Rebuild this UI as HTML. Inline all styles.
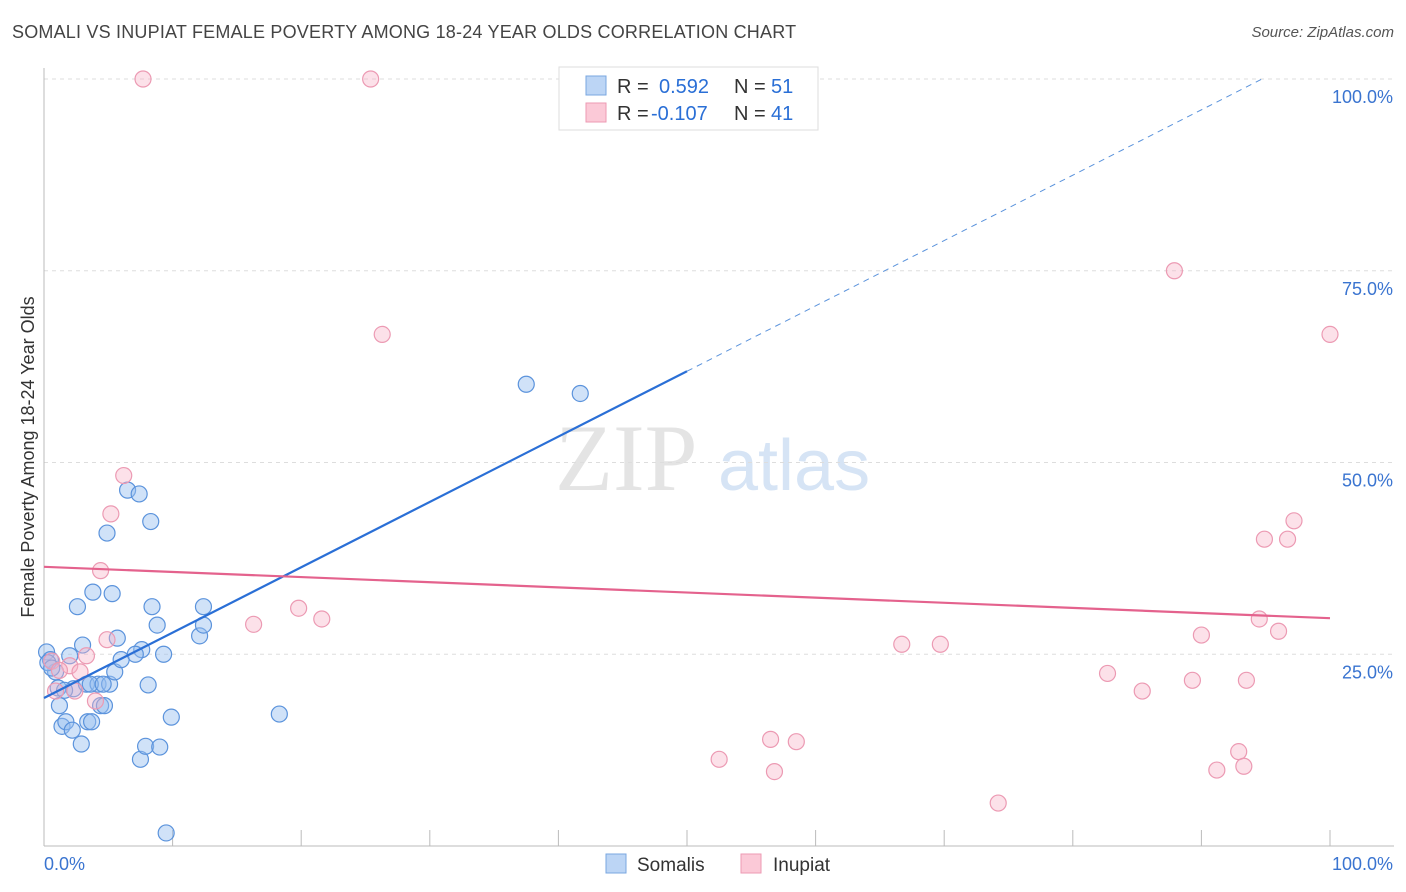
<!DOCTYPE html>
<html><head><meta charset="utf-8"><style>
body{margin:0;background:#fff;font-family:"Liberation Sans",sans-serif;}
#title{position:absolute;left:12px;top:22px;font-size:18px;color:#444;letter-spacing:0.2px}
#source{position:absolute;right:12px;top:24px;font-size:15px;color:#555;font-style:italic}
</style></head><body>
<div id="title">SOMALI VS INUPIAT FEMALE POVERTY AMONG 18-24 YEAR OLDS CORRELATION CHART</div>
<div id="source">Source: ZipAtlas.com</div>
<svg id="chart" width="1406" height="892" style="position:absolute;left:0;top:0"></svg>
<script>
const yTicks=[25,50,75,100];
const yTickLabels=["25.0%","50.0%","75.0%","100.0%"];
const somaliX=[0.2,0.5,0.9,1.2,1.4,1.7,2.0,2.2,2.3,2.6,2.9,3.0,3.3,3.4,3.7,3.8,4.2,4.4,4.7,4.9,5.1,5.3,5.5,5.7,6.0,6.5,7.4,7.5,7.9,8.1,8.3,8.4,8.8,9.0,9.3,9.5,9.9,12.1,12.4,12.4,18.3,37.5,41.7,0.3,0.6,1.1,1.6,3.6,4.6,7.6,7.1];
const somaliY=[25.3,24.3,22.7,18.3,15.6,16.2,24.8,15.1,20.5,31.2,13.3,26.2,21.1,16.2,16.2,33.1,21.1,18.3,18.3,40.8,21.1,32.9,22.7,27.1,24.3,46.4,45.9,11.3,13.0,21.0,42.3,31.2,28.8,12.9,25.0,1.7,16.8,27.4,31.2,28.8,17.2,60.2,59.0,23.9,23.2,20.6,20.3,21.1,21.1,25.6,25.0];
const inupiatX=[7.7,25.4,47.2,87.9,100,26.3,6.2,5.2,4.4,19.8,21.6,16.3,4.9,3.3,0.6,2.0,4.0,2.4,0.9,66.7,69.7,82.7,85.4,89.3,93.5,90.0,94.5,96.0,96.7,94.9,97.2,52.5,56.5,58.5,56.8,92.9,91.2,93.3,74.2,1.2,2.8];
const inupiatY=[100,100,100,75.0,66.7,66.7,48.3,43.3,35.9,31.0,29.6,28.9,26.9,24.8,24.1,23.5,18.9,20.2,20.2,26.3,26.3,22.5,20.2,21.6,21.6,27.5,29.6,28.0,40.0,40.0,42.4,11.3,13.9,13.6,9.7,12.3,9.9,10.4,5.6,22.9,22.7];
const somaliLine=[19.3,61.9,100]; // y at x=0, x=50, end y
const inupiatLine=[36.4,29.7];
const L=44,R=1330,T=79,B=846;
const sx=v=>L+(R-L)*v/100, sy=v=>B-(B-T)*v/100;
const svg=document.getElementById('chart');const NS='http://www.w3.org/2000/svg';
function mk(t,a,p){const e=document.createElementNS(NS,t);for(const k in a)e.setAttribute(k,a[k]);(p||svg).appendChild(e);return e;}
// watermark
let w=mk('text',{x:555,y:490,'font-size':95,fill:'#e4e4e4','font-family':'Liberation Serif'});w.textContent='ZIP';


let w2=mk('text',{x:718,y:490,'font-size':72,fill:'#d6e4f5'});w2.textContent='atlas';


// grid
yTicks.forEach((t,i)=>{
 const g=mk('line',{x1:L,x2:1394,y1:sy(t),y2:sy(t),stroke:'#ddd','stroke-dasharray':'4,4'});
 
 
 const tx=mk('text',{x:1393,y:sy(t)+24,'text-anchor':'end','font-size':18,fill:'#3a74d0'});tx.textContent=yTickLabels[i];
 
 
});
// axes
let ax=mk('line',{x1:L,x2:L,y1:68,y2:B,stroke:'#bbb'});


let ax2=mk('line',{x1:L,x2:1394,y1:B,y2:B,stroke:'#bbb'});


for(let i=1;i<=10;i++){const tk=mk('line',{x1:sx(i*10),x2:sx(i*10),y1:B,y2:B-16,stroke:'#bbb'});
 
 }
let x0=mk('text',{x:44,y:870,'font-size':18,fill:'#3a74d0'});x0.textContent='0.0%';


let x1=mk('text',{x:1393,y:870,'font-size':18,fill:'#3a74d0','text-anchor':'end'});x1.textContent='100.0%';


let yt=mk('text',{x:34,y:457,'font-size':18,fill:'#333','text-anchor':'middle',transform:'rotate(-90 34 457)'});yt.textContent='Female Poverty Among 18-24 Year Olds';


// points
somaliX.forEach((x,i)=>{const c=mk('circle',{cx:sx(x),cy:sy(somaliY[i]),r:8,fill:'rgba(150,190,240,0.45)',stroke:'#5b93dc','stroke-width':1.2});
 
 });
inupiatX.forEach((x,i)=>{const c=mk('circle',{cx:sx(x),cy:sy(inupiatY[i]),r:8,fill:'rgba(248,180,200,0.4)',stroke:'#ec9ab3','stroke-width':1.2});
 
 });
// trend lines
const slope=(somaliLine[1]-somaliLine[0])/50, xEnd=(somaliLine[2]-somaliLine[0])/slope;
let bl=mk('line',{x1:sx(0),y1:sy(somaliLine[0]),x2:sx(50),y2:sy(somaliLine[1]),stroke:'#2a6fd6','stroke-width':2.2});


let bd=mk('line',{x1:sx(50),y1:sy(somaliLine[1]),x2:sx(xEnd),y2:sy(somaliLine[2]),stroke:'#5b93dc','stroke-width':1,'stroke-dasharray':'6,5'});


let pl=mk('line',{x1:sx(0),y1:sy(inupiatLine[0]),x2:sx(100),y2:sy(inupiatLine[1]),stroke:'#e4628d','stroke-width':2.2});


// legend box
const lg=mk('g',{});


mk('rect',{x:559,y:67,width:259,height:63,fill:'#fff',stroke:'#ddd'},lg);
mk('rect',{x:586,y:76,width:20,height:19,fill:'#bcd5f5',stroke:'#7aa7e0'},lg);
mk('rect',{x:586,y:103,width:20,height:19,fill:'#fbc9d7',stroke:'#ec9ab3'},lg);
function tt(x,y,s,c){const e=mk('text',{x:x,y:y,'font-size':20,fill:c},lg);e.textContent=s;return e;}
tt(617,93,'R =','#333');tt(659,93,'0.592','#2a6fd6');tt(734,93,'N =','#333');tt(771,93,'51','#2a6fd6');
tt(617,120,'R =','#333');tt(651,120,'-0.107','#2a6fd6');tt(734,120,'N =','#333');tt(771,120,'41','#2a6fd6');
// bottom legend
const bl2=mk('g',{});


mk('rect',{x:606,y:854,width:20,height:19,fill:'#bcd5f5',stroke:'#7aa7e0'},bl2);
let s1=mk('text',{x:637,y:871,'font-size':19,fill:'#333'},bl2);s1.textContent='Somalis';
mk('rect',{x:741,y:854,width:20,height:19,fill:'#fbc9d7',stroke:'#ec9ab3'},bl2);
let s2=mk('text',{x:773,y:871,'font-size':19,fill:'#333'},bl2);s2.textContent='Inupiat';
</script>
</body></html>
